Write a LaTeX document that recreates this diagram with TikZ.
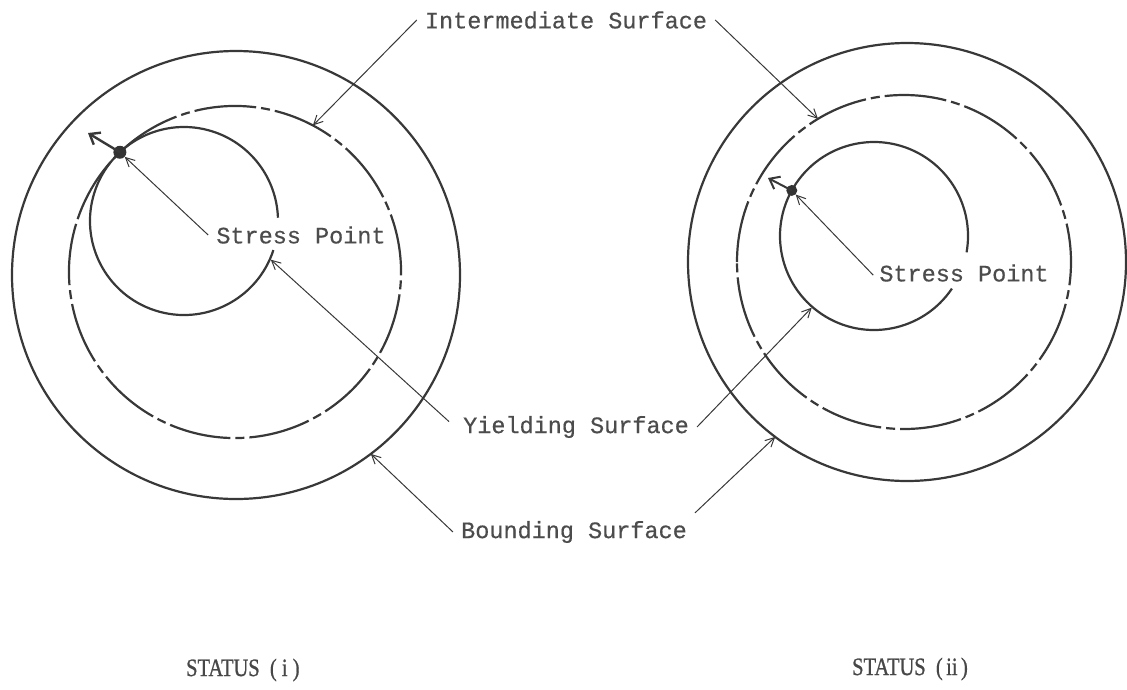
\documentclass[tikz,border=0pt]{standalone}
\usepackage{fontspec}
\setmainfont{Liberation Serif}
\newfontfamily\labelfont[FakeBold=0.5]{Liberation Mono}
\newfontfamily\statusfont[FakeBold=1]{Liberation Serif}
\usetikzlibrary{arrows.meta,calc}

\begin{document}
\begin{tikzpicture}[x=1pt,y=-1pt,
  ink/.style={draw=black!78},
  surface/.style={ink, line width=2.2pt},
  midsurface/.style={surface, dash pattern=on 62pt off 5pt on 9pt off 5pt},
  leader/.style={ink, line width=1pt, -{Straight Barb[length=9pt,width=9pt]}},
  normalarrow/.style={ink, line width=2.4pt, -{Straight Barb[length=9pt,width=14pt]}},
  tag/.style={font=\labelfont\fontsize{23.5}{28}\selectfont, text=black!70, inner sep=8pt},
  statustext/.style={font=\statusfont\fontsize{25}{29}\selectfont, text=black!72, inner sep=0pt, anchor=west, xscale=0.82},
  stressdot/.style={circle, fill=black!80, inner sep=0pt, minimum size=13pt}
]
\useasboundingbox (0,0) rectangle (1127,689);

% ---------- centres of the surfaces ----------
\coordinate (Lb) at (236,275);
\coordinate (Li) at (235,272);
\coordinate (Ly) at (184,221);
\coordinate (Rb) at (907,262);
\coordinate (Ri) at (904,262);
\coordinate (Ry) at (874,236);

% ---------- status (i) ----------
\draw[surface] (Lb) circle[radius=224];
\draw[midsurface] ($(Li)+(200:166)$) arc[start angle=200, end angle=560, radius=166];
\draw[surface] ($(Ly)+(18:94)$) arc[start angle=18, end angle=358, radius=94];
\node[stressdot] (spL) at ($(Ly)+(227:94)$) {};
\coordinate (nL) at (88,133);
\draw[normalarrow] (spL.center) -- (nL);

% ---------- status (ii) ----------
\draw[surface] (Rb) circle[radius=219];
\draw[midsurface] ($(Ri)+(180:167)$) arc[start angle=180, end angle=540, radius=167];
\draw[surface] ($(Ry)+(34:94)$) arc[start angle=34, end angle=370, radius=94];
\node[stressdot, minimum size=11pt] (spR) at ($(Ry)+(209:94)$) {};
\coordinate (nR) at (768,178);
\draw[normalarrow, line width=2pt] (spR.center) -- (nR);

% ---------- points where the leaders touch the surfaces ----------
\coordinate (tIL) at ($(Li)+(-62:166)$);
\coordinate (tIR) at ($(Ri)+(-121:167)$);
\coordinate (tYL) at ($(Ly)+(24:95)$);
\coordinate (tYR) at ($(Ry)+(131:95)$);
\coordinate (tBL) at ($(Lb)+(53:224)$);
\coordinate (tBR) at ($(Rb)+(127:219)$);

% ---------- labels ----------
\node[tag] (isurf) at (566,20) {Intermediate Surface};
\node[tag] (ysurf) at (576,427) {Yielding Surface};
\node[tag] (bsurf) at (574,532) {Bounding Surface};
\node[tag] (spTextL) at (301,235) {Stress Point};
\node[tag] (spTextR) at (964,273) {Stress Point};

\draw[leader] (isurf.west) -- (tIL);
\draw[leader] (isurf.east) -- (tIR);
\draw[leader, shorten <=8pt] (ysurf.west) -- (tYL);
\draw[leader] (ysurf.east) -- (tYR);
\draw[leader] (bsurf.west) -- (tBL);
\draw[leader] (bsurf.north east) -- (tBR);
\draw[leader] (spTextL.west) -- (spL);
\draw[leader, shorten <=-3pt] (spTextR.west) -- (spR);

\node[statustext] (stI) at (186,670) {STATUS\ \ (\ i\ )};
\node[statustext] (stII) at (852,669) {STATUS\ \ (\,ii\,)};
\end{tikzpicture}
\end{document}
